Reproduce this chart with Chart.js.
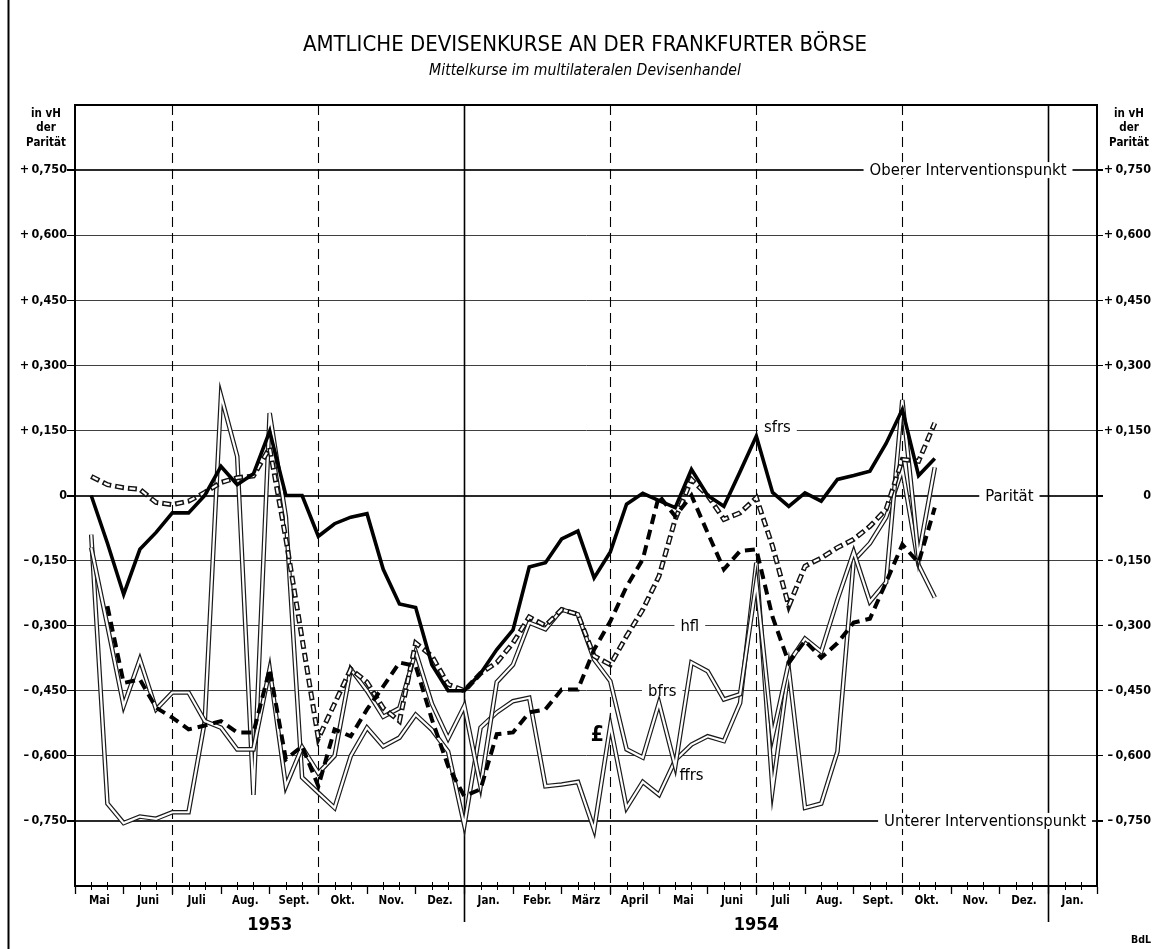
<!DOCTYPE html>
<html>
<head>
<meta charset="utf-8">
<script src="https://cdn.jsdelivr.net/npm/chart.js@4/dist/chart.umd.min.js"></script>
<style>
html,body{margin:0;padding:0;background:#fff;}
canvas{display:block;}
</style>
</head>
<body>
<canvas id="c" width="1161" height="949"></canvas>
<script>
// ---- categories / tick labels ----
const months = ['Mai','Juni','Juli','Aug.','Sept.','Okt.','Nov.','Dez.','Jan.','Febr.','März','April','Mai','Juni','Juli','Aug.','Sept.','Okt.','Nov.','Dez.','Jan.'];
const years = ['1953','1954'];
const yearAtMonth = [4, 14];
const quarterLineMonths = [2, 5, 11, 14, 17];
const yearLineMonths = [8, 20];

// ---- series: one value per third of a month, from 10 May 1953 to 20 Oct 1954 (in % of parity) ----
const sfrs = [0.00,-0.11,-0.228,-0.124,-0.085,-0.04,-0.04,0.00,0.067,0.025,0.05,0.148,0.00,0.00,-0.094,-0.065,-0.05,-0.042,-0.17,-0.25,-0.258,-0.39,-0.45,-0.45,-0.41,-0.355,-0.31,-0.165,-0.155,-0.10,-0.082,-0.19,-0.13,-0.02,0.005,-0.012,-0.028,0.06,0.00,-0.025,0.055,0.137,0.007,-0.025,0.006,-0.013,0.037,0.046,0.056,0.12,0.198,0.046,0.085];
const pound = [null,-0.255,-0.432,-0.424,-0.489,-0.512,-0.539,-0.53,-0.52,-0.546,-0.546,-0.40,-0.608,-0.578,-0.67,-0.539,-0.555,-0.493,-0.44,-0.385,-0.393,-0.516,-0.624,-0.693,-0.677,-0.55,-0.546,-0.50,-0.493,-0.447,-0.447,-0.355,-0.29,-0.21,-0.147,0.00,-0.048,0.00,-0.086,-0.17,-0.128,-0.124,-0.28,-0.385,-0.335,-0.374,-0.34,-0.293,-0.284,-0.2,-0.113,-0.155,-0.028];
const hfl = [0.044,0.025,0.018,0.014,-0.016,-0.021,-0.013,0.007,0.03,0.041,0.045,0.11,-0.10,-0.33,-0.56,-0.48,-0.40,-0.43,-0.49,-0.52,-0.34,-0.37,-0.435,-0.45,-0.41,-0.385,-0.34,-0.28,-0.30,-0.263,-0.274,-0.37,-0.39,-0.324,-0.263,-0.186,-0.055,0.037,0.0,-0.055,-0.04,-0.005,-0.117,-0.255,-0.163,-0.144,-0.12,-0.101,-0.071,-0.032,0.083,0.079,0.167];
const bfrs = [-0.12,-0.30,-0.485,-0.378,-0.493,-0.454,-0.454,-0.52,-0.535,-0.585,-0.585,-0.40,-0.67,-0.58,-0.64,-0.60,-0.40,-0.45,-0.51,-0.49,-0.36,-0.48,-0.56,-0.485,-0.67,-0.43,-0.39,-0.293,-0.308,-0.263,-0.274,-0.378,-0.428,-0.585,-0.604,-0.478,-0.624,-0.385,-0.405,-0.47,-0.458,-0.20,-0.555,-0.385,-0.33,-0.36,-0.24,-0.13,-0.245,-0.20,0.22,-0.14,0.065];
const ffrs = [-0.09,-0.71,-0.755,-0.74,-0.745,-0.73,-0.73,-0.52,0.23,0.09,-0.69,0.19,-0.05,-0.65,-0.685,-0.72,-0.60,-0.535,-0.578,-0.558,-0.505,-0.54,-0.59,-0.76,-0.535,-0.50,-0.474,-0.466,-0.67,-0.666,-0.66,-0.77,-0.53,-0.72,-0.66,-0.69,-0.61,-0.574,-0.555,-0.566,-0.478,-0.155,-0.677,-0.40,-0.72,-0.71,-0.59,-0.15,-0.11,-0.05,0.06,-0.16,-0.235];

// ---- in-chart labels (data coordinates: x in thirds of a month, y in % of parity) ----
const notes = [
  {text:'Oberer Interventionspunkt', x:55.05, y:0.75},
  {text:'Parität', x:57.6, y:0},
  {text:'Unterer Interventionspunkt', x:56.1, y:-0.75},
  {text:'sfrs', x:43.3, y:0.158},
  {text:'hfl', x:37.9, y:-0.30},
  {text:'bfrs', x:36.2, y:-0.45},
  {text:'£', x:32.2, y:-0.55, big:true},
  {text:'ffrs', x:38.0, y:-0.643}
];

const NARROW = '"Liberation Sans Narrow", "DejaVu Sans Condensed", "Arial Narrow", sans-serif';
const COND = '"DejaVu Sans Condensed", "DejaVu Sans", sans-serif';
const THIRDS = months.length * 3;

const pts = arr => arr.map((v, i) => ({x: i + 1, y: v}));
const base = {pointRadius:0, pointHoverRadius:0, tension:0, fill:false, spanGaps:true, borderCapStyle:'butt', borderJoinStyle:'miter'};

const isEdge = v => Math.abs(Math.abs(v) - 0.9) < 1e-6;
const yLabel = v => {
  if (isEdge(v)) return '';
  if (Math.abs(v) < 1e-9) return '0';
  const s = Math.abs(v).toFixed(3).replace('.', ',');
  return (v > 0 ? '+\u2009' : '\u2013\u2009') + s;
};
const isMain = c => c.tick && (Math.abs(c.tick.value) < 1e-9 || Math.abs(Math.abs(c.tick.value) - 0.75) < 1e-9);
const yGrid = {
  color: c => (c.tick && isEdge(c.tick.value)) ? 'rgba(0,0,0,0)' : '#2a2a2a',
  tickColor: c => (c.tick && isEdge(c.tick.value)) ? 'rgba(0,0,0,0)' : '#000',
  lineWidth: c => isMain(c) ? 2 : 0.9,
  tickWidth: c => isMain(c) ? 2 : 1
};

const extras = {
  id: 'extras',
  beforeDatasetsDraw(chart) {
    const {ctx, chartArea: a, scales: {x, y}} = chart;
    ctx.save();
    ctx.strokeStyle = '#000';
    // quarter lines (dashed)
    ctx.lineWidth = 1.1;
    ctx.setLineDash([10, 6]);
    quarterLineMonths.forEach(m => {
      const px = Math.round(x.getPixelForValue(m * 3)) + 0.5;
      ctx.beginPath(); ctx.moveTo(px, a.top); ctx.lineTo(px, a.bottom + 9); ctx.stroke();
    });
    // year lines (solid)
    ctx.setLineDash([]);
    ctx.lineWidth = 1.6;
    yearLineMonths.forEach(m => {
      const px = Math.round(x.getPixelForValue(m * 3)) + 0.5;
      ctx.beginPath(); ctx.moveTo(px, a.top); ctx.lineTo(px, a.bottom + 36); ctx.stroke();
    });
    // in-chart labels with white background
    ctx.textAlign = 'center';
    ctx.textBaseline = 'middle';
    notes.forEach(n => {
      ctx.font = n.big ? 'bold 21px ' + NARROW : '16.5px ' + NARROW;
      const px = x.getPixelForValue(n.x), py = y.getPixelForValue(n.y);
      const w = ctx.measureText(n.text).width;
      ctx.fillStyle = '#fff';
      ctx.fillRect(px - w / 2 - 6, py - 8, w + 12, 16);
      ctx.fillStyle = '#000';
      ctx.fillText(n.text, px, py + 1);
    });
    ctx.restore();
  },
  afterDraw(chart) {
    const {ctx, chartArea: a, scales: {x}} = chart;
    ctx.save();
    ctx.strokeStyle = '#000';
    // top frame of plot
    ctx.lineWidth = 2;
    ctx.beginPath(); ctx.moveTo(a.left - 1, a.top); ctx.lineTo(a.right + 1, a.top); ctx.stroke();
    // minor ticks at thirds of a month
    ctx.lineWidth = 1;
    for (let k = 1; k < THIRDS; k++) {
      if (k % 3 === 0) continue;
      const px = Math.round(x.getPixelForValue(k)) + 0.5;
      ctx.beginPath(); ctx.moveTo(px, a.bottom - 4); ctx.lineTo(px, a.bottom + 4); ctx.stroke();
    }
    // outer frame line at left
    ctx.lineWidth = 2;
    ctx.beginPath(); ctx.moveTo(8.5, 0); ctx.lineTo(8.5, chart.height); ctx.stroke();
    // axis headers
    ctx.fillStyle = '#000';
    ctx.textAlign = 'center';
    ctx.textBaseline = 'middle';
    ctx.font = 'bold 11.5px ' + COND;
    const hdr = ['in vH', 'der', 'Parität'];
    hdr.forEach((t, i) => {
      ctx.fillText(t, 46, a.top + 9 + i * 14.5);
      ctx.fillText(t, 1129, a.top + 9 + i * 14.5);
    });
    ctx.font = 'bold 10.5px ' + COND;
    ctx.fillText('BdL', 1141, 940);
    ctx.restore();
  }
};

new Chart(document.getElementById('c'), {
  type: 'line',
  data: {
    datasets: [
      Object.assign({label:'sfrs', data: pts(sfrs), borderColor:'#000', borderWidth:3.6, order:0}, base),
      Object.assign({label:'£', data: pts(pound), borderColor:'#000', borderWidth:4, borderDash:[10,6], order:1}, base),
      Object.assign({label:'hfl-in', data: pts(hfl), borderColor:'#fff', borderWidth:2.2, borderDash:[6,7], borderDashOffset:-1.5, order:2}, base),
      Object.assign({label:'hfl', data: pts(hfl), borderColor:'#111', borderWidth:5, borderDash:[9,4], order:3}, base),
      Object.assign({label:'bfrs-in', data: pts(bfrs), borderColor:'#fff', borderWidth:2.2, order:4}, base),
      Object.assign({label:'bfrs', data: pts(bfrs), borderColor:'#1a1a1a', borderWidth:4.6, order:5}, base),
      Object.assign({label:'ffrs-in', data: pts(ffrs), borderColor:'#fff', borderWidth:2.2, order:6}, base),
      Object.assign({label:'ffrs', data: pts(ffrs), borderColor:'#1a1a1a', borderWidth:4.6, order:7}, base)
    ]
  },
  options: {
    responsive: false,
    animation: false,
    events: [],
    layout: {padding: {left: 19, right: 10, top: 0, bottom: 0}},
    plugins: {
      legend: {display: false},
      tooltip: {enabled: false},
      title: {display: true, text: 'AMTLICHE DEVISENKURSE AN DER FRANKFURTER BÖRSE', color: '#000',
        font: {family: NARROW, size: 22, weight: 'normal', lineHeight: 1.2}, padding: {top: 32, bottom: 3}},
      subtitle: {display: true, text: 'Mittelkurse im multilateralen Devisenhandel', color: '#000',
        font: {family: NARROW, size: 15.6, style: 'italic', weight: 'normal', lineHeight: 1.2}, padding: {top: 0, bottom: 24.88}}
    },
    scales: {
      x: {
        type: 'linear', position: 'bottom', min: 0, max: THIRDS,
        afterFit: s => { s.height = 26; },
        ticks: {stepSize: 1.5, autoSkip: false, maxRotation: 0, minRotation: 0, padding: 0, color: '#000',
          font: {family: COND, size: 11.5, weight: 'bold'},
          callback: v => { const m = (v - 1.5) / 3; return (Number.isInteger(m) && months[m]) ? months[m] : ''; }},
        grid: {drawOnChartArea: false, tickLength: 8,
          tickColor: c => (c.tick && c.tick.value % 3 === 0) ? '#000' : 'rgba(0,0,0,0)', tickWidth: 1.3},
        border: {display: true, color: '#000', width: 2}
      },
      x2: {
        type: 'linear', position: 'bottom', min: 0, max: THIRDS,
        afterBuildTicks: s => { s.ticks = yearAtMonth.map(m => ({value: m * 3})); },
        afterFit: s => { s.height = 37; },
        ticks: {autoSkip: false, maxRotation: 0, minRotation: 0, padding: 3, color: '#000',
          font: {family: COND, size: 18, weight: 'bold'}, callback: (v, i) => years[i]},
        grid: {display: false, drawTicks: false},
        border: {display: false}
      },
      y: {
        type: 'linear', position: 'left', min: -0.9, max: 0.9,
        afterFit: s => { s.width = 56; },
        ticks: {stepSize: 0.15, padding: 0, color: '#000', font: {family: COND, size: 12.5, weight: 'bold'}, callback: yLabel},
        grid: Object.assign({tickLength: 8}, yGrid),
        border: {display: true, color: '#000', width: 2}
      },
      y2: {
        type: 'linear', position: 'right', min: -0.9, max: 0.9,
        afterFit: s => { s.width = 54; },
        ticks: {stepSize: 0.15, padding: 4, crossAlign: 'far', color: '#000', font: {family: COND, size: 12.5, weight: 'bold'}, callback: yLabel},
        grid: Object.assign({tickLength: 6, drawOnChartArea: false}, yGrid),
        border: {display: true, color: '#000', width: 2}
      }
    }
  },
  plugins: [extras]
});
</script>
</body>
</html>
